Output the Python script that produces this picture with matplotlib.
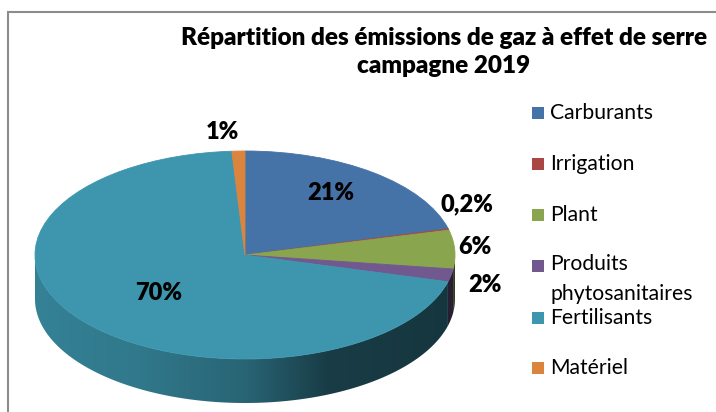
import numpy as np
import matplotlib
matplotlib.use('Agg')
import matplotlib.pyplot as plt
from matplotlib.patches import Polygon, Rectangle
from matplotlib.colors import to_rgb

categories = ['Carburants', 'Irrigation', 'Plant', 'Produits\nphytosanitaires', 'Fertilisants', 'Matériel']
values = [21, 0.2, 6, 2, 70, 1]
pct_labels = ['21%', '0,2%', '6%', '2%', '70%', '1%']
colors = ['#4572A7', '#AA4643', '#89A54E', '#71588F', '#3D96AE', '#DB843D']
title = 'Répartition des émissions de gaz à effet de serre\ncampagne 2019'

W, H = 716, 412
plt.rcParams['font.family'] = ['Lato', 'DejaVu Sans']
fig = plt.figure(figsize=(W / 100, H / 100), dpi=100)

# pie geometry in pixels
CX, CY, RX, RY, DEPTH = 245, 255, 210, 104, 44
ax = fig.add_axes([0, 0, 1, 1])
wedges, _ = ax.pie(values, colors=colors, startangle=90, counterclock=False,
                   radius=1, center=(0, 0),
                   wedgeprops=dict(linewidth=0.6, zorder=3))
for w, c in zip(wedges, colors):
    w.set_edgecolor(c)
d = DEPTH / RY

# side (3D depth) with smooth horizontal shading gradient
shade_x = [-1, -0.5, 0, 0.4, 1]
shade_f = [0.86, 0.80, 0.67, 0.40, 0.36]
gx = np.linspace(-1, 1, 600)
gf = np.interp(gx, shade_x, shade_f)
for w, c in zip(wedges, colors):
    rgb = np.array(to_rgb(c))
    for k in (-360, 0, 360):
        a = max(w.theta1 + k, 180)
        b = min(w.theta2 + k, 360)
        if b > a:
            th = np.radians(np.linspace(a, b, 200))
            top = np.column_stack([np.cos(th), np.sin(th)])
            bot = np.column_stack([np.cos(th[::-1]), np.sin(th[::-1]) - d])
            poly = Polygon(np.vstack([top, bot]), closed=True, facecolor='none',
                           edgecolor='none', zorder=2)
            ax.add_patch(poly)
            img = np.clip(gf[None, :, None] * rgb[None, None, :], 0, 1)
            im = ax.imshow(img, extent=(-1, 1, -1 - d, 0), aspect='auto',
                           interpolation='bilinear', zorder=2, origin='lower')
            im.set_clip_path(poly)

ax.set_aspect('auto')
ax.set_xlim(-CX / RX, (W - CX) / RX)
ax.set_ylim(-(H - CY) / RY, CY / RY)
ax.axis('off')

# percentage labels
label_offsets = [(-43, -20), (18, 25), (20, 2), (34, -10), (76, 28), (-16, 19)]
for w, lab, off in zip(wedges, pct_labels, label_offsets):
    mid = np.radians((w.theta1 + w.theta2) / 2)
    ax.annotate(lab, xy=(np.cos(mid), np.sin(mid)), xytext=off,
                textcoords='offset pixels', ha='center', va='center',
                fontsize=17, fontweight='heavy', color='black', zorder=5)

# title
fig.text(444 / W, 1 - 52 / H, title, ha='center', va='center', fontsize=17.5,
         fontweight='heavy', linespacing=1.34)

# legend (manual)
leg_y = [113, 164, 215, 266, 318, 368]
for cat, col, y in zip(categories, colors, leg_y):
    fig.patches.append(Rectangle((532 / W, 1 - (y + 6) / H), 12 / W, 12 / H,
                                 transform=fig.transFigure, facecolor=col, edgecolor='none'))
    if '\n' in cat:
        fig.text(550 / W, 1 - (y - 12) / H, cat, ha='left', va='top', fontsize=15.2,
                 linespacing=1.62)
    else:
        fig.text(550 / W, 1 - y / H, cat, ha='left', va='center', fontsize=15.2)

# chart border
fig.patches.append(Rectangle((8 / W, -0.1), 1.2, 1.1 - 12 / H, transform=fig.transFigure,
                             fill=False, edgecolor='#8C8C8C', linewidth=1.5))

fig.savefig('out.png', dpi=100)
